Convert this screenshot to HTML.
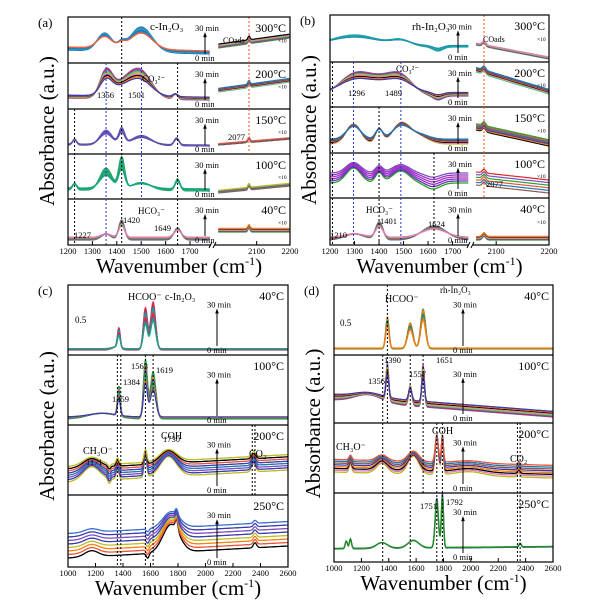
<!DOCTYPE html>
<html><head><meta charset="utf-8"><style>
body{margin:0;background:#fff}
svg{display:block}
text{font-family:"Liberation Serif",serif}
</style></head><body>
<svg id="fig" width="608" height="602" viewBox="0 0 608 602" xmlns="http://www.w3.org/2000/svg"></svg>
<script>
// ---- data: peaks [wavenumber, height, width] per panel row ----
const aTemps=["300°C","200°C","150°C","100°C","40°C"];
const aPeaks=[[[1350,18,30],[1500,25,45],[1420,6,15]],[[1356,25,25],[1501,24,45],[1430,15,50],[1640,5,10]],[[1227,6,8],[1356,15,25],[1420,16,12],[1501,10,40],[1645,8,10]],[[1227,7,8],[1356,22,25],[1420,32,12],[1500,8,40],[1649,12,10]],[[1356,6,20],[1420,20,12],[1649,12,15]]];
const aBase=[[10,6],[8,6],[6,5],[6,5],[2,2]];
const aRight=[[12,22],[14,24],[6,12],[3,10],[10,10]];
const bTemps=["300°C","200°C","150°C","100°C","40°C"];
const bPeaks=[[[1300,12,100],[1490,6,40],[1640,-4,20]],[[1296,20,60],[1489,18,50],[1400,14,60],[1640,-4,20]],[[1296,20,30],[1400,15,15],[1489,20,35],[1560,8,40]],[[1296,15,30],[1400,10,15],[1489,12,35],[1620,-6,30]],[[1300,6,40],[1401,18,15],[1624,14,50]]];
const bBase=[[12,12],[8,8],[6,6],[12,12],[2,2]];
const bRight=[[14,0],[32,10],[20,4],[10,2],[2,2]];
const cTemps=["40°C","100°C","200°C","250°C"];
const cPeaks=[[[1370,20,10],[1563,42,15],[1619,48,18],[1350,3,30]],[[1370,30,10],[1563,58,14],[1619,47,20],[1250,6,100]],[[1171,14,60],[1360,10,10],[1563,22,10],[1730,20,60],[2350,8,15],[1300,-5,10]],[[1171,6,50],[1750,28,60],[1790,10,10],[2360,5,12],[1580,-5,10]]];
const cBase=[[2,2],[3,3],[10,22],[6,18]];
const dTemps=["40°C","100°C","200°C","250°C"];
const dPeaks=[[[1390,32,12],[1557,26,20],[1651,40,18]],[[1390,38,10],[1557,20,12],[1651,42,10],[1250,8,100]],[[1120,8,10],[1350,10,40],[1580,18,40],[1751,40,12],[1792,40,8],[1990,4,100],[2350,4,10]],[[1090,8,8],[1120,10,8],[1350,6,40],[1580,8,40],[1751,50,12],[1792,55,8],[2360,4,8]]];
const dBase=[[3,3],[20,3],[18,12],[10,12]];
const colors=["#1f77b4","#e8553a","#2ca02c","#7b4fbf","#d62728","#17becf","#bcbd22","#e377c2","#000000","#ff7f0e","#3b3bb0","#8c564b"];

const S=document.getElementById('fig');const NS="http://www.w3.org/2000/svg";
function el(t,a,p){const e=document.createElementNS(NS,t);for(const k in a)e.setAttribute(k,a[k]);(p||S).appendChild(e);return e;}
function txt(x,y,s,sz,name,anchor,extra){const e=el('text',Object.assign({x:x,y:y,'font-size':sz,'text-anchor':anchor||'start',fill:'#000','font-family':'Liberation Serif, serif'},extra||{}));e.textContent=s;


return e;}
function spec(w,peaks){let v=0;for(const p of peaks)v+=p[1]*Math.exp(-((w-p[0])**2)/(2*p[2]*p[2]));return v;}

function panel(o){
 const g=el('g',{});
 
 
 const x0=o.x0,x1=o.x1,tops=o.rows;
 const sx=o.sx;
 for(let r=0;r<o.peaks.length;r++){
  const yt=tops[r],yb=tops[r+1];const n=o.n[r];
  const pal=(o.rowColors&&o.rowColors[r])||null;
  for(let i=0;i<n;i++){
   const sc=1-0.06*i, off=i*o.spread[r];
   let d="";
   for(let w=o.wmin;w<=o.wlmax;w+=4){const t=(w-o.wmin)/(o.wlmax-o.wmin);
    const b=o.base[r][0]+(o.base[r][1]-o.base[r][0])*t;
    const y=yb-3-(b+off+spec(w,o.peaks[r])*sc);d+=(d?"L":"M")+sx(w).toFixed(1)+","+y.toFixed(1);}
   const col=pal?pal[i%pal.length]:colors[(i+r*3)%colors.length];
   const p=el('path',{d:d,fill:'none',stroke:col,'stroke-width':1.3},g);
   
   
   if(o.right){const R=o.right[r];let d2="";
    for(let w=o.wr0;w<=o.wr1;w+=3){const t=(w-o.wr0)/(o.wr1-o.wr0);const y=yb-3-(R[0]+(R[1]-R[0])*t+i*o.spread[r]*1.3+spec(w,[[2077,4,3]]));d2+=(d2?"L":"M")+sx(w).toFixed(1)+","+y.toFixed(1);}
    const q=el('path',{d:d2,fill:'none',stroke:colors[(i+r*3+2)%colors.length],'stroke-width':1.2},g);
    
    }
  }
  if(r>0){const l=el('line',{x1:x0,x2:x1,y1:yt,y2:yt,stroke:'#000','stroke-width':1.2},g);}
  txt(x1-4,yt+15,o.temps[r],12,'temperature-label','end');
  const ax=o.arrowX, h=yb-yt;
  el('line',{x1:ax,x2:ax,y1:yb-9,y2:yt+h*0.35,stroke:'#000','stroke-width':1},g);
  el('path',{d:`M${ax-1.8},${yt+h*0.35+4}L${ax},${yt+h*0.35-1}L${ax+1.8},${yt+h*0.35+4}Z`,fill:'#000'},g);
  txt(ax-10,yt+h*0.35-2,"30 min",8.5,'time-label-30');
  txt(ax-10,yb-2,"0 min",8.5,'time-label-0');
  if(o.right)txt(x1-12,yt+h*0.55,"×10",5.5,'scale-x10');
 }
 for(const v of o.vlines){const l=el('line',{x1:sx(v[0]),x2:sx(v[0]),y1:tops[v[1]],y2:tops[v[2]],stroke:v[3],'stroke-width':1,'stroke-dasharray':'2,2'},g);}
 const box=el('rect',{x:x0,y:tops[0],width:x1-x0,height:tops[tops.length-1]-tops[0],fill:'none',stroke:'#000','stroke-width':1.2},g);
 
 const yB=tops[tops.length-1];
 for(const t of o.ticks){el('line',{x1:sx(t),x2:sx(t),y1:yB,y2:yB-4,stroke:'#000'},g);txt(sx(t),yB+9,String(t),8.5,'x-tick-label','middle');}
 if(o.brk){el('rect',{x:o.brk-2,y:yB-3,width:4,height:6,fill:'#fff'},g);el('path',{d:`M${o.brk-4},${yB+3}l3,-6M${o.brk},${yB+3}l3,-6`,stroke:'#000',fill:'none'},g);}
 const xt=txt((x0+x1)/2,yB+28,"",21,'x-axis-title','middle');
 xt.innerHTML='Wavenumber (cm<tspan dy="-8" font-size="12">-1</tspan><tspan dy="8">)</tspan>';
 txt(0,0,"Absorbance (a.u.)",21,'y-axis-title','middle',{transform:`translate(${x0-14},${(tops[0]+yB)/2}) rotate(-90)`});
 txt(x0-30,tops[0]+10,o.letter,13,'panel-letter');
 for(const a of o.ann)txt(a[0],a[1],a[2],a[3]||8.5,'peak-annotation');
 return g;
}
function lin(d0,d1,r0,r1){return w=>r0+(w-d0)*(r1-r0)/(d1-d0);}
const sa1=lin(1200,1790,68,212),sa2=lin(1975,2200,215,290);
panel({name:'panel-a',letter:'(a)',x0:68,x1:290,rows:[17,63,109,154,199,245],temps:aTemps,peaks:aPeaks,base:aBase,right:aRight,
 n:[7,8,6,8,8],spread:[0.5,0.4,0.2,0.3,0.4],wmin:1200,wlmax:1780,wr0:1985,wr1:2200,sx:w=>w<1900?sa1(w):sa2(w),arrowX:205,brk:213,
 rowColors:[["#1f77b4","#2a7fb8","#17becf","#3b6fb0","#1f77b4","#2a8fb0","#ff5a36"],null,["#7b4fbf","#6a5acd","#5b4fa0"],["#2ca02c","#17a589","#20b2aa"],null],
 ticks:[1200,1300,1400,1500,1600,1700,2100,2200],
 vlines:[[1227,2,5,'#000'],[1420,0,5,'#000'],[1649,1,5,'#000'],[1356,1,5,'#2233cc'],[1501,1,4,'#2233cc'],[2077,0,3,'#ff5522']],
 ann:[[150,30,"c-In₂O₃",11],[142,82,"CO₃²⁻",9],[97,98,"1356"],[128,98,"1501"],[228,140,"2077"],[138,214,"HCO₃⁻",9],[123,223,"1420"],[154,231,"1649"],[74,238,"1227"],[223,43,"COads",8]]});
const sb1=lin(1200,1775,330,471),sb2=lin(2058,2200,474,549);
panel({name:'panel-b',letter:'(b)',x0:330,x1:549,rows:[15,62,107,153,198,245],temps:bTemps,peaks:bPeaks,base:bBase,right:bRight,
 n:[6,8,7,6,8],spread:[0.3,0.5,0.8,2,0.4],wmin:1200,wlmax:1765,wr0:2062,wr1:2200,sx:w=>w<1900?sb1(w):sb2(w),arrowX:458,brk:471,
 rowColors:[["#17a2a2","#2ab0a0","#1f8fb4"],null,null,["#2ca02c","#5b3fa0","#8a2be2","#b030b0","#9932cc","#7b4fbf"],null],
 ticks:[1200,1300,1400,1500,1600,1700,2100,2200],
 vlines:[[1210,1,5,'#000'],[1400,2,5,'#000'],[1624,3,5,'#000'],[1296,1,5,'#2233cc'],[1489,1,5,'#2233cc'],[2077,0,4,'#ff5522']],
 ann:[[412,30,"rh-In₂O₃",11],[396,72,"CO₃²⁻",9],[348,96,"1296"],[385,96,"1489"],[486,187,"2077"],[366,213,"HCO₃⁻",9],[380,224,"1401"],[428,227,"1624"],[330,238,"1210"],[483,42,"COads",8]]});
const sc=lin(1000,2600,68,288);
panel({name:'panel-c',letter:'(c)',x0:68,x1:288,rows:[285,355,425,495,567],temps:cTemps,peaks:cPeaks,base:cBase,
 n:[8,8,8,8],spread:[0.2,0.3,2.2,3.5],wmin:1000,wlmax:2600,sx:sc,arrowX:217,
 rowColors:[["#e0306a","#d62728","#2a7fb8","#17a589"],["#2ca02c","#17a589","#ff7f0e","#3b3bb0"],["#bcbd22","#3b3bb0","#7b4fbf","#1f77b4","#3b3bb0","#e8553a","#000"],["#000","#e8553a","#ff7f0e","#bcbd22","#3b3bb0","#7b4fbf","#3b3bb0","#3b6fd0"]],
 ticks:[1000,1200,1400,1600,1800,2000,2200,2400,2600],
 vlines:[[1359,1,4,'#000'],[1384,1,4,'#000'],[1563,1,4,'#000'],[1619,1,4,'#000'],[2340,2,3,'#000'],[2360,2,3,'#000']],
 ann:[[128,300,"HCOO⁻",10],[165,300,"c-In₂O₃",10],[75,323,"0.5",9],[131,369,"1563"],[156,373,"1619"],[123,385,"1384"],[112,402,"1359"],[83,454,"CH₃O⁻",10],[86,465,"1171"],[161,439,"COH",10],[163,442,"1730"],[249,457,"CO₂",10]]});
const sd=lin(1000,2600,334,553);
panel({name:'panel-d',letter:'(d)',x0:334,x1:553,rows:[285,355,423,493,562],temps:dTemps,peaks:dPeaks,base:dBase,
 n:[6,8,8,3],spread:[0.2,0.8,1.8,0.3],wmin:1000,wlmax:2600,sx:sd,arrowX:463,
 rowColors:[["#8b8b3a","#ff7f0e","#2ca02c","#3b6fb0"],null,null,["#3b3bb0","#2ca02c","#228b22"]],
 ticks:[1000,1200,1400,1600,1800,2000,2200,2400,2600],
 vlines:[[1356,1,4,'#000'],[1390,0,2,'#000'],[1557,1,4,'#000'],[1651,1,3,'#000'],[1751,2,4,'#000'],[1792,2,4,'#000'],[2340,2,4,'#000'],[2360,2,4,'#000']],
 ann:[[385,302,"HCOO⁻",10],[440,293,"rh-In₂O₃",9],[340,326,"0.5",9],[384,363,"1390"],[436,363,"1651"],[409,377,"1557"],[368,384,"1356"],[336,450,"CH₃O⁻",10],[432,434,"COH",10],[510,462,"CO₂",10],[420,509,"1751"],[446,505,"1792"]]});
</script>
</body></html>
